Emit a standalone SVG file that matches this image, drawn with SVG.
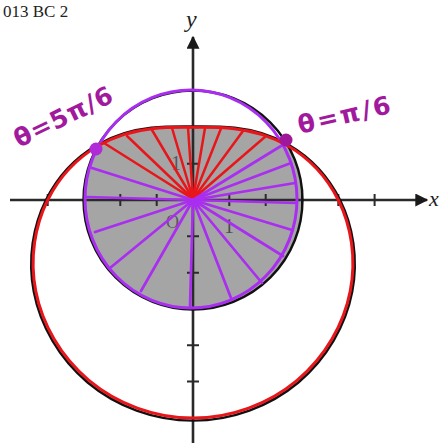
<svg xmlns="http://www.w3.org/2000/svg" width="447" height="443" viewBox="0 0 447 443">
<defs>
<style>
.axis{stroke:#2a2a2a;stroke-width:2.6;fill:none}
.tick{stroke:#2a2a2a;stroke-width:2;fill:none}
.blk{stroke:#111;stroke-width:2.4;fill:none}
.red{stroke:#e8161b;stroke-width:3;fill:none;stroke-linecap:round}
.pur{stroke:#aa2ef0;stroke-width:3;fill:none;stroke-linecap:round}
.rr{stroke:#e8161b;stroke-width:2.5;stroke-linecap:round}
.pr{stroke:#aa2ef0;stroke-width:2.7;stroke-linecap:round}
.hand{fill:#a11a9e;font-family:"DejaVu Sans",sans-serif;font-size:25px;font-weight:bold}
.lbl{font-family:"Liberation Serif",serif;fill:#222}
</style>
<marker id="arr" viewBox="0 0 10 10" refX="9" refY="5" markerWidth="6.5" markerHeight="5" markerUnits="strokeWidth" orient="auto">
<path d="M0,0 L10,5 L0,10 z" fill="#1a1a1a"/>
</marker>
</defs>
<rect width="447" height="443" fill="#ffffff"/>
<text class="lbl" x="3" y="17" font-size="17">013 BC 2</text>

<g id="region">
<path d="M 287.4 145.5 C 268.4 134.5, 249.8 130.35, 234.2 128.65 C 218.6 126.95, 205.7 127.3, 193 127.3 C 180.3 127.3, 167.4 126.95, 151.8 128.65 C 136.2 130.35, 117.6 134.5, 98.6 145.5 A 109 109 0 1 0 287.4 145.5 Z" fill="#a5a5a5"/>
</g>

<g id="axes">
<line class="axis" x1="10" y1="200" x2="427" y2="200" marker-end="url(#arr)"/>
<line class="axis" x1="193" y1="443" x2="193" y2="37" marker-end="url(#arr)"/>
<path class="tick" d="M47.7 194v12M84 194v12M120.3 194v12M156.7 194v12M229.3 194v12M265.7 194v12M302 194v12M338.3 194v12M374.6 194v12"/>
<path class="tick" d="M187 91h12M187 127.3h12M187 163.7h12M187 236.3h12M187 272.7h12M187 309h12M187 345.3h12M187 381.6h12M187 418h12"/>
<text class="lbl" x="186" y="27" font-size="24" font-style="italic">y</text>
<text class="lbl" x="429" y="206" font-size="22" font-style="italic">x</text>
<text class="lbl" x="171" y="170" font-size="20" fill-opacity="0.6">1</text>
<text class="lbl" x="224" y="233" font-size="20" fill-opacity="0.7">1</text>
<text class="lbl" x="166" y="228" font-size="18" fill-opacity="0.6">O</text>
</g>

<g id="printed-curves">
<circle class="blk" cx="193" cy="200" r="109.5"/>
<path class="blk" transform="translate(193,200) scale(1.012) translate(-193,-200)" d="M 338.3 200 C 325.6 174.6, 306.4 156.5, 287.4 145.5 C 268.4 134.5, 249.8 130.35, 234.2 128.65 C 218.6 126.95, 205.7 127.3, 193 127.3 C 180.3 127.3, 167.4 126.95, 151.8 128.65 C 136.2 130.35, 117.6 134.5, 98.6 145.5 C 79.6 156.5, 60.4 174.6, 47.7 200 C 35 225.4, 29.4 257.85, 35.7 290.8 C 42 323.75, 60.6 356.6, 88.9 380.3 C 117.2 404, 155 418, 193 418 C 231 418, 268.8 404, 297.1 380.3 C 325.4 356.6, 344 323.75, 350.3 290.8 C 356.6 257.85, 351 225.4, 338.3 200 Z"/>
</g>

<g id="rays">
<line class="rr" x1="193" y1="199" x2="104" y2="143"/>
<line class="rr" x1="193" y1="199" x2="127" y2="136"/>
<line class="rr" x1="193" y1="199" x2="152" y2="130"/>
<line class="rr" x1="193" y1="199" x2="172" y2="128"/>
<line class="rr" x1="193" y1="199" x2="188" y2="127.5"/>
<line class="rr" x1="193" y1="199" x2="205" y2="128"/>
<line class="rr" x1="193" y1="199" x2="221" y2="128.5"/>
<line class="rr" x1="193" y1="199" x2="243" y2="131"/>
<line class="rr" x1="193" y1="199" x2="266" y2="136"/>
<line class="pr" x1="193" y1="200" x2="281" y2="146"/>
<line class="pr" x1="193" y1="200" x2="291" y2="163"/>
<line class="pr" x1="193" y1="200" x2="295" y2="183"/>
<line class="pr" x1="193" y1="200" x2="296" y2="203"/>
<line class="pr" x1="193" y1="200" x2="292" y2="230"/>
<line class="pr" x1="193" y1="200" x2="283" y2="256"/>
<line class="pr" x1="193" y1="200" x2="262" y2="283"/>
<line class="pr" x1="193" y1="200" x2="231" y2="298"/>
<line class="pr" x1="193" y1="200" x2="190" y2="307"/>
<line class="pr" x1="193" y1="200" x2="141" y2="291"/>
<line class="pr" x1="193" y1="200" x2="110" y2="268"/>
<line class="pr" x1="193" y1="200" x2="95" y2="232"/>
<line class="pr" x1="193" y1="200" x2="87" y2="197"/>
<line class="pr" x1="193" y1="200" x2="92" y2="168"/>
</g>

<g id="circle-r3">
<ellipse class="pur" cx="191" cy="199" rx="106" ry="109"/>
</g>

<g id="limacon">
<path class="red" d="M 338.3 200 C 325.6 174.6, 306.4 156.5, 287.4 145.5 C 268.4 134.5, 249.8 130.35, 234.2 128.65 C 218.6 126.95, 205.7 127.3, 193 127.3 C 180.3 127.3, 167.4 126.95, 151.8 128.65 C 136.2 130.35, 117.6 134.5, 98.6 145.5 C 79.6 156.5, 60.4 174.6, 47.7 200 C 35 225.4, 29.4 257.85, 35.7 290.8 C 42 323.75, 60.6 356.6, 88.9 380.3 C 117.2 404, 155 418, 193 418 C 231 418, 268.8 404, 297.1 380.3 C 325.4 356.6, 344 323.75, 350.3 290.8 C 356.6 257.85, 351 225.4, 338.3 200 Z"/>
</g>

<g id="point-left">
<circle cx="96" cy="149" r="6.5" fill="#b02ad8"/>
<text class="hand" transform="translate(19,148) rotate(-26)" letter-spacing="1">θ=5π/6</text>
</g>
<g id="point-right">
<circle cx="286" cy="140" r="6.5" fill="#a0189a"/>
<text class="hand" transform="translate(300,134) rotate(-13)" letter-spacing="2.5">θ=π/6</text>
</g>
</svg>
